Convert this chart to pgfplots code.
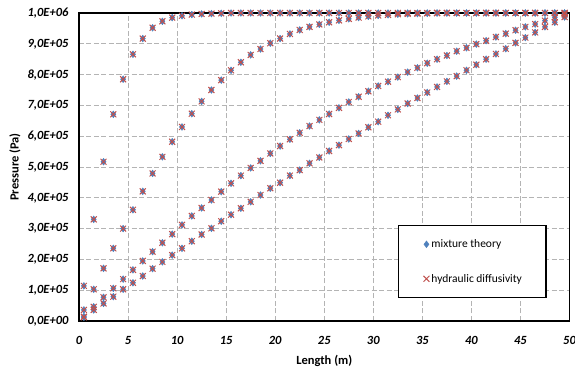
\documentclass[border=0pt]{standalone}
\usepackage{fontspec}
\setmainfont{Carlito}
\usepackage{pgfplots}
\usepackage{pgfplotstable}
\pgfplotsset{compat=1.18}
\definecolor{mtblue}{RGB}{79,129,189}
\definecolor{hdred}{RGB}{192,80,77}
\definecolor{gridgray}{RGB}{180,180,180}

\pgfplotstableread{
x A B C D
0.5 114000 36000 14000 12000
1.5 330000 103000 46000 36000
2.5 517000 171000 77000 57000
3.5 671000 236000 106000 79000
4.5 785000 300000 136000 103000
5.5 866000 361000 166000 124000
6.5 917000 421000 195000 146000
7.5 952000 479000 225000 170000
8.5 973000 533000 254000 192000
9.5 985000 582000 282000 214000
10.5 991000 630000 312000 236000
11.5 995000 673000 341000 259000
12.5 997000 713000 367000 281000
13.5 998000 750000 393000 301000
14.5 999000 782000 420000 324000
15.5 1000000 814000 447000 345000
16.5 1000000 840000 472000 366000
17.5 1000000 864000 497000 387000
18.5 1000000 883000 520000 409000
19.5 1000000 902000 544000 431000
20.5 1000000 917000 568000 449000
21.5 1000000 932000 590000 472000
22.5 1000000 945000 611000 490000
23.5 1000000 955000 633000 512000
24.5 1000000 963000 653000 531000
25.5 1000000 970000 672000 552000
26.5 1000000 976000 692000 571000
27.5 1000000 981000 711000 591000
28.5 1000000 985000 728000 609000
29.5 1000000 989000 746000 629000
30.5 1000000 992000 763000 647000
31.5 1000000 994000 777000 668000
32.5 1000000 996000 792000 687000
33.5 1000000 997000 808000 706000
34.5 1000000 998000 822000 724000
35.5 1000000 999000 837000 742000
36.5 1000000 1000000 850000 760000
37.5 1000000 1000000 862000 778000
38.5 1000000 1000000 876000 795000
39.5 1000000 1000000 887000 814000
40.5 1000000 1000000 899000 832000
41.5 1000000 1000000 910000 850000
42.5 1000000 1000000 922000 867000
43.5 1000000 1000000 933000 884000
44.5 1000000 1000000 944000 903000
45.5 1000000 1000000 955000 920000
46.5 1000000 1000000 964000 937000
47.5 1000000 1000000 975000 955000
48.5 1000000 1000000 986000 970000
49.5 1000000 1000000 996000 987000
}\data

\pgfplotsset{
  mt/.style={only marks, mark=diamond*, mark size=3.4pt, color=mtblue,
    mark options={line width=0.4pt, fill=mtblue, draw=mtblue}},
  hd/.style={only marks, mark=x, mark size=4.2pt, color=hdred,
    mark options={line width=1pt, draw=hdred}},
}

\begin{document}
\begin{tikzpicture}
\path[use as bounding box] (-79pt,-53pt) rectangle (496pt,321pt);
\begin{axis}[
  scale only axis, width=490.5pt, height=308pt,
  xmin=0, xmax=50, ymin=0, ymax=1000000,
  clip=false,
  xtick={0,5,10,15,20,25,30,35,40,45,50},
  xticklabels={0,5,10,15,20,25,30,35,40,45,50},
  ytick={0,100000,200000,300000,400000,500000,600000,700000,800000,900000,1000000},
  yticklabels={{0,0E+00},{1,0E+05},{2,0E+05},{3,0E+05},{4,0E+05},{5,0E+05},{6,0E+05},{7,0E+05},{8,0E+05},{9,0E+05},{1,0E+06}},
  scaled y ticks=false, scaled x ticks=false,
  grid=major,
  major grid style={gridgray, line width=0.8pt, dash pattern=on 5pt off 2.5pt},
  major tick length=0pt,
  axis line style={line width=1.8pt, black},
  tick label style={font=\fontsize{12.5}{14}\selectfont\bfseries\itshape},
  xticklabel style={anchor=center, yshift=-19pt},
  yticklabel style={anchor=east, xshift=-7pt},
  xlabel={Length (m)},
  ylabel={Pressure (Pa)},
  label style={font=\fontsize{12.5}{14}\selectfont\bfseries},
  xlabel style={at={(axis description cs:0.5,-0.13)}, anchor=center},
  ylabel style={at={(axis description cs:-0.1305,0.5)}, anchor=center},
  legend image code/.code={\path[draw=none,fill=none] (-6pt,0pt) -- (3pt,0pt); \draw[#1,draw=none] plot coordinates {(0pt,0pt)};},
  legend cell align=left,
  legend style={at={(axis description cs:0.65,0.312)}, anchor=north west,
    draw=black, line width=1.3pt, fill=white,
    font=\fontsize{11.5}{13}\selectfont,
    inner xsep=22pt, inner ysep=12pt, row sep=21pt},
]
\addplot[mt] table[x=x,y=A]{\data};
\addlegendentry{mixture theory}
\addplot[mt, forget plot] table[x=x,y=B]{\data};
\addplot[mt, forget plot] table[x=x,y=C]{\data};
\addplot[mt, forget plot] table[x=x,y=D]{\data};
\addplot[hd] table[x=x,y=A]{\data};
\addlegendentry{hydraulic diffusivity}
\addplot[hd, forget plot] table[x=x,y=B]{\data};
\addplot[hd, forget plot] table[x=x,y=C]{\data};
\addplot[hd, forget plot] table[x=x,y=D]{\data};
\end{axis}
\end{tikzpicture}
\end{document}
